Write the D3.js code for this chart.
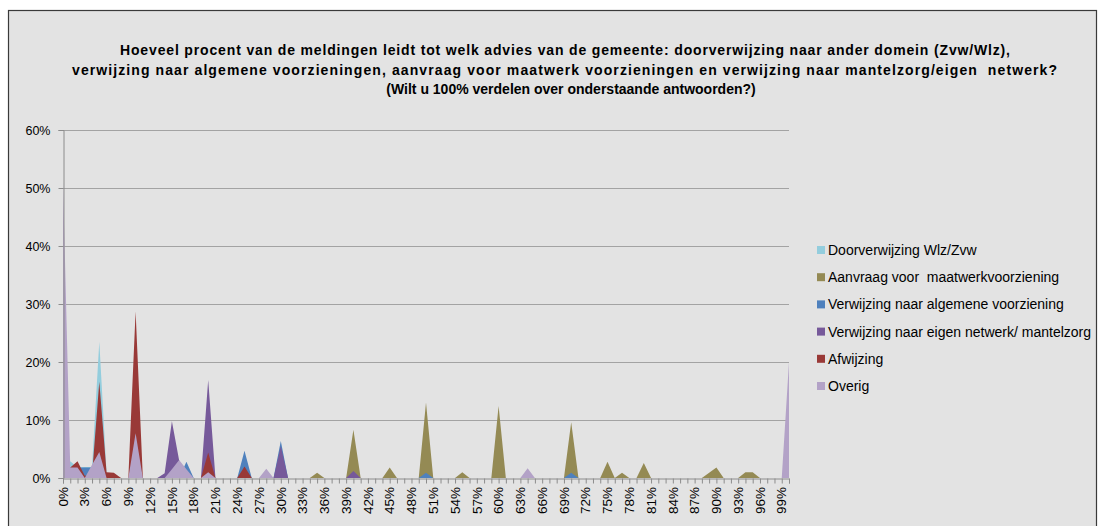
<!DOCTYPE html>
<html>
<head>
<meta charset="utf-8">
<script src="https://cdn.jsdelivr.net/npm/d3@7"></script>
<style>
  html, body { margin: 0; padding: 0; background: #ffffff; }
  svg { display: block; }
  text { white-space: pre; }
</style>
</head>
<body>
<svg id="chart" width="1099" height="526"></svg>
<script>
// ---------- DATA ----------
const categories = d3.range(0, 101); // 0% .. 100%
const tickLabels = d3.range(0, 100, 3).map(d => d + "%");
const yTickLabels = ["0%", "10%", "20%", "30%", "40%", "50%", "60%"];
const yTickValues = [0, 10, 20, 30, 40, 50, 60];

const titleLines = [
  "Hoeveel procent van de meldingen leidt tot welk advies van de gemeente: doorverwijzing naar ander domein (Zvw/Wlz),",
  "verwijzing naar algemene voorzieningen, aanvraag voor maatwerk voorzieningen en verwijzing naar mantelzorg/eigen  netwerk?",
  "(Wilt u 100% verdelen over onderstaande antwoorden?)"
];

const seriesNames = [
  "Doorverwijzing Wlz/Zvw",
  "Aanvraag voor  maatwerkvoorziening",
  "Verwijzing naar algemene voorziening",
  "Verwijzing naar eigen netwerk/ mantelzorg",
  "Afwijzing",
  "Overig"
];

// values in percent, index = category 0..100
const doorverwijzing = [
  0, 2.9, 1.8, 1.9, 1.9, 23.5, 0.9, 0, 0, 0,
  0, 0, 0, 0, 0, 0, 0, 0, 0, 0,
  0, 0, 0, 0, 0, 0, 0, 0, 0, 0,
  0, 0, 0, 0, 0, 0, 0, 0, 0, 0,
  0, 0, 0, 0, 0, 0, 0, 0, 0, 0,
  0, 0, 0, 0, 0, 0, 0, 0, 0, 0,
  0, 0, 0, 0, 0, 0, 0, 0, 0, 0,
  0, 0, 0, 0, 0, 0, 0, 0, 0, 0,
  0, 0, 0, 0, 0, 0, 0, 0, 0, 0,
  0, 0, 0, 0, 0, 0, 0, 0, 0, 0,
  0
];
const aanvraag = [
  0, 0, 0, 0, 0, 0, 0, 0, 0, 0,
  0, 0, 0, 0, 0, 0, 0, 0, 0, 0,
  0, 0, 0, 0, 0, 0, 0, 0, 0, 0,
  0, 0, 0, 0, 0, 0.9, 0, 0, 0, 0,
  8.3, 0, 0, 0, 0, 1.8, 0, 0, 0, 0,
  13.0, 0, 0, 0, 0, 1.0, 0, 0, 0, 0,
  12.4, 0, 0, 0, 0, 0, 0, 0, 0, 0,
  9.6, 0, 0, 0, 0, 2.8, 0, 0.9, 0, 0,
  2.6, 0, 0, 0, 0, 0, 0, 0, 0, 0.9,
  1.8, 0, 0, 0, 1.0, 1.0, 0, 0, 0, 0,
  0
];
const algemeen = [
  0, 1.5, 1.8, 1.8, 1.8, 0, 0, 0, 0, 0,
  0, 0, 0, 0, 0, 0, 0, 2.8, 0, 0,
  0, 0, 0, 0, 0, 4.7, 0, 0, 0, 0,
  6.4, 0, 0, 0, 0, 0, 0, 0, 0, 0,
  0, 0, 0, 0, 0, 0, 0, 0, 0, 0,
  0.9, 0, 0, 0, 0, 0, 0, 0, 0, 0,
  0, 0, 0, 0, 0, 0, 0, 0, 0, 0,
  0.9, 0, 0, 0, 0, 0, 0, 0, 0, 0,
  0, 0, 0, 0, 0, 0, 0, 0, 0, 0,
  0, 0, 0, 0, 0, 0, 0, 0, 0, 0,
  0
];
const eigenNetwerk = [
  0, 0, 0, 0, 0, 0, 0, 0, 0, 0,
  0, 0, 0, 0, 0.8, 9.8, 3.0, 0, 0, 0,
  16.9, 0, 0, 0, 0, 0, 0, 0, 0, 0,
  5.5, 0, 0, 0, 0, 0, 0, 0, 0, 0,
  1.2, 0, 0, 0, 0, 0, 0, 0, 0, 0,
  0, 0, 0, 0, 0, 0, 0, 0, 0, 0,
  0, 0, 0, 0, 0, 0, 0, 0, 0, 0,
  0, 0, 0, 0, 0, 0, 0, 0, 0, 0,
  0, 0, 0, 0, 0, 0, 0, 0, 0, 0,
  0, 0, 0, 0, 0, 0, 0, 0, 0, 0,
  0
];
const afwijzing = [
  0, 1.8, 2.9, 0.4, 0.5, 16.6, 1.0, 0.9, 0, 0,
  28.7, 0, 0, 0, 0, 0, 0, 0, 0, 0,
  4.4, 0, 0, 0, 0, 2.0, 0, 0, 0, 0,
  0, 0, 0, 0, 0, 0, 0, 0, 0, 0,
  0, 0, 0, 0, 0, 0, 0, 0, 0, 0,
  0, 0, 0, 0, 0, 0, 0, 0, 0, 0,
  0, 0, 0, 0, 0, 0, 0, 0, 0, 0,
  0, 0, 0, 0, 0, 0, 0, 0, 0, 0,
  0, 0, 0, 0, 0, 0, 0, 0, 0, 0,
  0, 0, 0, 0, 0, 0, 0, 0, 0, 0,
  0
];
const overig = [
  51, 1.8, 1.8, 0, 2.3, 4.5, 0, 0, 0, 0,
  7.7, 0, 0, 0, 0, 1.5, 3.1, 1.5, 0, 0,
  1.0, 0, 0, 0, 0, 0, 0, 0, 1.6, 0,
  0, 0, 0, 0, 0, 0, 0, 0, 0, 0,
  0, 0, 0, 0, 0, 0, 0, 0, 0, 0,
  0, 0, 0, 0, 0, 0, 0, 0, 0, 0,
  0, 0, 0, 0, 1.7, 0, 0, 0, 0, 0,
  0, 0, 0, 0, 0, 0, 0, 0, 0, 0,
  0, 0, 0, 0, 0, 0, 0, 0, 0, 0,
  0, 0, 0, 0, 0, 0, 0, 0, 0, 0,
  20
];

const seriesValues = [doorverwijzing, aanvraag, algemeen, eigenNetwerk, afwijzing, overig];
const seriesColors = ["#93CDDD", "#948A54", "#4F81BD", "#76599A", "#993937", "#B3A2C7"];

// ---------- LAYOUT ----------
const svg = d3.select("#chart");
const plot = { left: 63, right: 789, top: 130, bottom: 478 };
// [x-start, x-end] for stretched lines; null = natural width, centred
const titleSpans = [[120, 1010], [72, 1057], null];

// outer chart frame
svg.append("rect")
  .attr("x", 8.5).attr("y", 10.5)
  .attr("width", 1088).attr("height", 530)
  .attr("fill", "#e3e3e3")
  .attr("stroke", "#3a3a3a").attr("stroke-width", 1.2);

// title
svg.append("g").selectAll("text").data(titleLines).join("text")
  .each(function (d, i) {
    const t = d3.select(this);
    const span = titleSpans[i];
    if (span) {
      t.attr("x", span[0]).attr("text-anchor", "start")
       .attr("textLength", span[1] - span[0]).attr("lengthAdjust", "spacing");
    } else {
      t.attr("x", 571).attr("text-anchor", "middle");
    }
  })
  .attr("y", (d, i) => 55 + i * 19.5)
  .attr("font-family", "'Liberation Sans', Arial, sans-serif")
  .attr("font-weight", "bold")
  .attr("font-size", "14px")
  .attr("fill", "#000")
  .text(d => d);

// scales
const x = d3.scalePoint().domain(categories).range([plot.left, plot.right]);
const y = d3.scaleLinear().domain([0, 60]).range([plot.bottom, plot.top]);

// gridlines
svg.append("g").selectAll("line").data(yTickValues.filter(v => v > 0)).join("line")
  .attr("x1", plot.left).attr("x2", plot.right)
  .attr("y1", d => Math.round(y(d)) + 0.5).attr("y2", d => Math.round(y(d)) + 0.5)
  .attr("stroke", "#a3a3a3").attr("stroke-width", 1);

// areas (overlapping, first series at back)
const area = d3.area()
  .x((d, i) => x(categories[i]))
  .y0(y(0))
  .y1(d => y(d));

svg.append("g").selectAll("path").data(seriesValues).join("path")
  .attr("d", d => area(d))
  .attr("fill", (d, i) => seriesColors[i])
  .attr("stroke", "none");

// y axis
const yAxis = d3.axisLeft(y).tickValues(yTickValues).tickFormat((d, i) => yTickLabels[i]).tickSize(5).tickPadding(8);
const gy = svg.append("g").attr("transform", `translate(${plot.left + 0.5},0)`).call(yAxis);
gy.select(".domain").attr("stroke", "#8c8c8c");
gy.selectAll(".tick line").attr("stroke", "#8c8c8c");
gy.selectAll(".tick text")
  .attr("font-family", "'Liberation Sans', Arial, sans-serif")
  .attr("font-size", "12.5px").attr("fill", "#000");

// x axis: ticks on every category, labels every 3rd
const xAxis = d3.axisBottom(x).tickSize(5).tickFormat("");
const gx = svg.append("g").attr("transform", `translate(0,${plot.bottom + 0.5})`).call(xAxis);
gx.select(".domain").attr("stroke", "#8c8c8c");
gx.selectAll(".tick line").attr("stroke", "#8c8c8c");

const labelCats = d3.range(0, 100, 3);
svg.append("g").selectAll("text").data(labelCats).join("text")
  .attr("transform", (d) => `translate(${x(d) + 4.7},${plot.bottom + 9}) rotate(-90)`)
  .attr("text-anchor", "end")
  .attr("font-family", "'Liberation Sans', Arial, sans-serif")
  .attr("font-size", "13.5px")
  .attr("fill", "#000")
  .text((d, i) => tickLabels[i]);

// legend
const legendRows = svg.append("g").selectAll("g").data(seriesNames).join("g")
  .attr("transform", (d, i) => `translate(817,${250 + i * 27.2})`);
legendRows.append("rect")
  .attr("x", 0).attr("y", -4).attr("width", 8).attr("height", 8)
  .attr("fill", (d, i) => seriesColors[i]);
legendRows.append("text")
  .attr("x", 11).attr("y", 5)
  .attr("font-family", "'Liberation Sans', Arial, sans-serif")
  .attr("font-size", "14px")
  .attr("fill", "#000")
  .text(d => d);
</script>
</body>
</html>
